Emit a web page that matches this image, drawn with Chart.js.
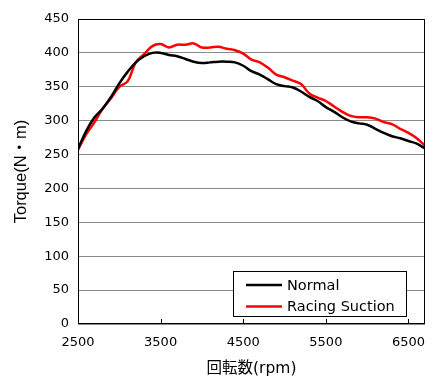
<!DOCTYPE html>
<html><head><meta charset="utf-8">
<script src="https://cdn.jsdelivr.net/npm/chart.js@4/dist/chart.umd.min.js"></script>
<style>html,body{margin:0;padding:0;background:#fff}#wrap{width:440px;height:387px}</style>
</head><body><div id="wrap"><canvas id="c" width="440" height="387"></canvas></div>
<script>
const rpm = [2500,2600,2700,2800,2900,3000,3100,3200,3300,3400,3500,3600,3700,3800,3900,4000,4100,4200,4300,4400,4500,4600,4700,4800,4900,5000,5100,5200,5300,5400,5500,5600,5700,5800,5900,6000,6100,6200,6300,6400,6500,6600,6700];
const normal = [258,285,305,318,335,355,372,386,395,400,400,397,395,391,387,385,386,387,387,386,381,373,368,361,354,351,349,343,335,329,320,313,305,299,296,294,288,282,277,274,270,266,259];
const racing = [257,280,298,318,333,350,358,386,398,410,413,408,412,412,414,408,408,409,406,404,399,390,386,378,368,364,359,354,340,334,329,321,313,307,305,305,303,298,295,288,282,274,263];
const xTicks = [2500,3500,4500,5500,6500];
const yTicks = [0,50,100,150,200,250,300,350,400,450];
const seriesNames = ['Normal','Racing Suction'];
const FONT = 'DejaVu Sans, Verdana, sans-serif';

const frame = {
  id:'frame',
  afterDatasetsDraw(chart){
    const {ctx, chartArea:a, scales:{x}} = chart;
    ctx.save();
    ctx.strokeStyle='#000'; ctx.lineWidth=1;
    ctx.strokeRect(a.left+0.5, a.top+0.5, a.right-a.left-1, a.bottom-a.top-1);
    ctx.beginPath();
    xTicks.forEach(v=>{const px=Math.round(x.getPixelForValue(v))+0.5; ctx.moveTo(px,a.bottom); ctx.lineTo(px,a.bottom-5);});
    ctx.stroke();
    const bx=233.5, by=271.5, bw=173, bh=45;
    ctx.fillStyle='#fff'; ctx.fillRect(bx,by,bw,bh);
    ctx.lineWidth=1; ctx.strokeStyle='#000';
    ctx.strokeRect(bx,by,bw,bh);
    ctx.font='14.5px '+FONT; ctx.textBaseline='middle'; ctx.textAlign='left';
    chart.data.datasets.forEach((d,i)=>{
      const yy = 285 + i*21.5;
      ctx.strokeStyle=d.borderColor; ctx.lineWidth=2.5;
      ctx.beginPath(); ctx.moveTo(246,yy); ctx.lineTo(282,yy); ctx.stroke();
      ctx.fillStyle='#000'; ctx.fillText(d.label, 287, yy+1);
    });
    ctx.restore();
  }
};

new Chart(document.getElementById('c'), {
  type:'line',
  data:{datasets:[
    {label:seriesNames[0], data:rpm.map((r,i)=>({x:r,y:normal[i]})), borderColor:'#000', borderWidth:2.5, pointRadius:0, tension:0.4, fill:false},
    {label:seriesNames[1], data:rpm.map((r,i)=>({x:r,y:racing[i]})), borderColor:'#ff0000', borderWidth:2.5, pointRadius:0, tension:0.4, fill:false}
  ]},
  options:{
    responsive:false, animation:false, devicePixelRatio:1,
    layout:{padding:{top:19,right:15,left:0,bottom:0}},
    plugins:{legend:{display:false}, tooltip:{enabled:false}},
    scales:{
      x:{type:'linear', min:2500, max:6700,
        afterBuildTicks:s=>{s.ticks=xTicks.map(v=>({value:v}));},
        afterFit:s=>{s.height=63;},
        grid:{display:false},
        border:{display:false},
        ticks:{color:'#000', font:{family:FONT,size:13}, padding:3, maxRotation:0, autoSkip:false, callback:v=>String(v)},
        title:{display:true, text:'回転数(rpm)', color:'#000', font:{family:'DejaVu Sans, Noto Sans CJK JP, sans-serif', size:15.5}, padding:{top:0,bottom:9}}
      },
      y:{min:0, max:450,
        afterBuildTicks:s=>{s.ticks=yTicks.map(v=>({value:v}));},
        afterFit:s=>{s.width=78;},
        grid:{color:'#8a8a8a', lineWidth:1, drawTicks:false},
        border:{display:false},
        ticks:{color:'#000', font:{family:FONT,size:13}, padding:9, callback:v=>String(v)},
        title:{display:true, text:'Torque(N・m)', color:'#000', font:{family:'Liberation Sans, Arial, Noto Sans CJK JP, sans-serif', size:16.5}, padding:{top:12,bottom:0}}
      }
    }
  },
  plugins:[frame]
});
</script></body></html>
